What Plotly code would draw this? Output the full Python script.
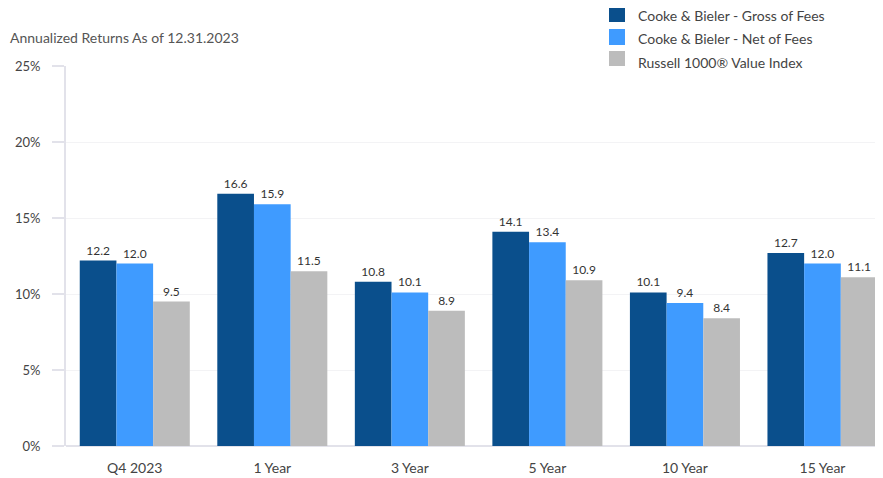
import plotly.graph_objects as go

categories = ["Q4 2023", "1 Year", "3 Year", "5 Year", "10 Year", "15 Year"]
gross = [12.2, 16.6, 10.8, 14.1, 10.1, 12.7]
net = [12.0, 15.9, 10.1, 13.4, 9.4, 12.0]
index_vals = [9.5, 11.5, 8.9, 10.9, 8.4, 11.1]
series_names = ["Cooke & Bieler - Gross of Fees", "Cooke & Bieler - Net of Fees", "Russell 1000® Value Index"]
colors = ["#0a4f8c", "#3f9bff", "#bcbcbc"]
y_ticks = [0, 5, 10, 15, 20, 25]
y_tick_labels = ["0%", "5%", "10%", "15%", "20%", "25%"]

FONT = "Lato, Noto Sans, sans-serif"

fig = go.Figure()
for name, vals, col in zip(series_names, [gross, net, index_vals], colors):
    fig.add_trace(go.Bar(
        x=list(range(len(categories))), y=vals, name=name,
        marker=dict(color=col, line=dict(width=0)),
        texttemplate="%{y:.1f}", textposition="outside",
        textfont=dict(size=12, color="#333333", family=FONT),
        cliponaxis=False, showlegend=False,
    ))

# custom legend (paper coordinates)
legend_rows = [(1.1579, 1.1158, 1.1316), (1.0974, 1.0553, 1.0711), (1.0395, 1.0, 1.0105)]
shapes = []
annotations = []
for (y0, y1, yt), name, col in zip(legend_rows, series_names, colors):
    shapes.append(dict(type="rect", xref="paper", yref="paper", x0=0.6646, x1=0.6842,
                       y0=y1, y1=y0, fillcolor=col, line=dict(width=0), layer="above"))
    annotations.append(dict(text=name, xref="paper", yref="paper", x=0.6977, y=yt,
                            xanchor="left", yanchor="middle", showarrow=False,
                            font=dict(size=14, color="#444444", family=FONT)))

annotations.append(dict(
    text="Annualized Returns As of 12.31.2023", xref="paper", yref="paper",
    x=-0.071, y=1.074, xanchor="left", yanchor="middle", showarrow=False,
    font=dict(size=14, color="#555555", family=FONT),
))

fig.update_layout(
    width=875, height=470,
    margin=dict(l=58, r=0, t=58, b=32),
    paper_bgcolor="white", plot_bgcolor="white",
    barmode="group", bargap=0.2, bargroupgap=0.0,
    font=dict(family=FONT, color="#444444"),
    showlegend=False,
    shapes=shapes,
    annotations=annotations,
)
fig.update_xaxes(
    tickmode="array", tickvals=list(range(len(categories))), ticktext=categories,
    range=[-0.5, 5.44], showgrid=False, showline=False, ticks="",
    tickfont=dict(size=14, color="#444444", family=FONT), zeroline=False,
    ticklabelstandoff=12,
)
fig.update_yaxes(
    range=[0, 25], tickmode="array", tickvals=y_ticks, ticktext=y_tick_labels,
    showgrid=True, gridcolor="#f3f3f5", gridwidth=1,
    showline=True, linecolor="#e2e2ea", linewidth=2,
    ticks="outside", ticklen=12, tickcolor="#e2e2ea", tickwidth=2,
    zeroline=True, zerolinecolor="#e2e2ea", zerolinewidth=2,
    tickfont=dict(size=13, color="#444444", family=FONT),
    ticklabelstandoff=9,
)

fig.write_html("out.html")
